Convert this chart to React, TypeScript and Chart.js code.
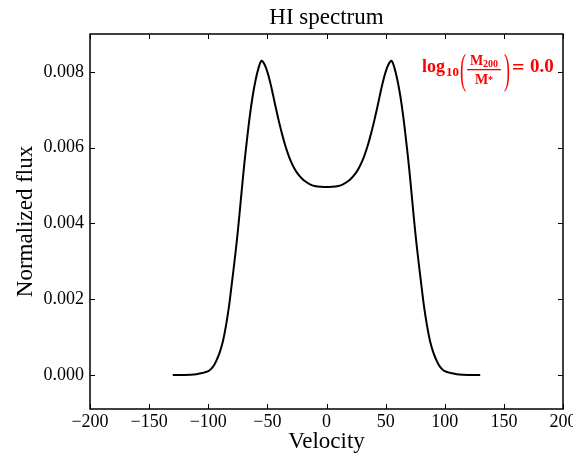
import React, { useEffect, useRef } from "react";
import { Chart, registerables } from "chart.js";

Chart.register(...registerables);

const velocity = [
  -130, -120, -115, -110, -105, -100, -97.5, -95, -92.5, -90, -87.5, -85, -82.5, -80,
  -77.5, -75, -72.5, -70, -67.5, -65, -62.5, -60, -57.5, -55, -52.5, -50, -47.5, -45,
  -42.5, -40, -37.5, -35, -32.5, -30, -27.5, -25, -22.5, -20, -17.5, -15, -12.5, -10, -5, 0,
  5, 10, 12.5, 15, 17.5, 20, 22.5, 25, 27.5, 30, 32.5, 35, 37.5, 40, 42.5, 45, 47.5, 50,
  52.5, 55, 57.5, 60, 62.5, 65, 67.5, 70, 72.5, 75, 77.5, 80, 82.5, 85, 87.5, 90, 92.5,
  95, 97.5, 100, 105, 110, 115, 120, 130,
];

const flux = [
  0, 0, 0.000005, 0.00002, 0.00005, 0.0001, 0.00016, 0.00026, 0.00042, 0.00062, 0.0009, 0.0013, 0.0018, 0.00243,
  0.00308, 0.00379, 0.0046, 0.00542, 0.00614, 0.0068, 0.00735, 0.00778, 0.0081, 0.00829, 0.0082, 0.008, 0.00771, 0.00736,
  0.007, 0.00666, 0.00635, 0.00607, 0.00583, 0.00563, 0.00547, 0.00534, 0.00524, 0.00516, 0.0051, 0.00505, 0.00501, 0.00499, 0.00497, 0.00496,
  0.00497, 0.00499, 0.00501, 0.00505, 0.0051, 0.00516, 0.00524, 0.00534, 0.00547, 0.00563, 0.00583, 0.00607, 0.00635, 0.00666, 0.007, 0.00736, 0.00771, 0.008,
  0.0082, 0.00829, 0.0081, 0.00778, 0.00735, 0.0068, 0.00614, 0.00542, 0.0046, 0.00379, 0.00308, 0.00243, 0.0018, 0.0013, 0.0009, 0.00062, 0.00042,
  0.00026, 0.00016, 0.0001, 0.00005, 0.00002, 0.000005, 0, 0,
];

const xTicks = [-200, -150, -100, -50, 0, 50, 100, 150, 200];
const yTicks = [0, 0.002, 0.004, 0.006, 0.008];
const chartTitle = "HI spectrum";
const xLabel = "Velocity";
const yLabel = "Normalized flux";
const annotationValue = "0.0";

const SERIF = "'Liberation Serif', 'Times New Roman', serif";

const frameTicksPlugin = {
  id: "frameTicks",
  afterDraw(chart: any) {
    const { ctx, chartArea, scales } = chart;
    const { left, right, top, bottom } = chartArea;
    const x = scales.x;
    const y = scales.y;
    ctx.save();
    ctx.strokeStyle = "#000";
    ctx.lineWidth = 1;
    ctx.beginPath();
    xTicks.forEach((v) => {
      const px = Math.round(x.getPixelForValue(v)) + 0.5;
      ctx.moveTo(px, bottom);
      ctx.lineTo(px, bottom - 5);
      ctx.moveTo(px, top);
      ctx.lineTo(px, top + 5);
    });
    yTicks.forEach((v) => {
      const py = Math.round(y.getPixelForValue(v)) + 0.5;
      ctx.moveTo(left, py);
      ctx.lineTo(left + 5, py);
      ctx.moveTo(right, py);
      ctx.lineTo(right - 5, py);
    });
    ctx.stroke();
    ctx.lineWidth = 1.5;
    ctx.strokeRect(left, top, right - left, bottom - top);
    ctx.restore();
  },
};

const annotationPlugin = {
  id: "massRatioLabel",
  afterDraw(chart: any) {
    const { ctx, chartArea } = chart;
    const red = "#ff0000";
    const base = chartArea.top + 38;
    const r = chartArea.right;
    ctx.save();
    ctx.fillStyle = red;
    ctx.textBaseline = "alphabetic";
    ctx.textAlign = "left";

    ctx.font = `bold 18px ${SERIF}`;
    ctx.fillText("log", r - 141, base);

    ctx.font = `bold 13px ${SERIF}`;
    ctx.fillText("10", r - 117, base + 4);

    const drawParen = (ch: string, px: number) => {
      ctx.save();
      ctx.font = `18px ${SERIF}`;
      ctx.translate(px, base);
      ctx.scale(1, 2.3);
      ctx.textBaseline = "middle";
      ctx.fillText(ch, 0, 0);
      ctx.restore();
    };
    drawParen("(", r - 103);

    // fraction
    const fx = r - 96;
    const fw = 34;
    ctx.font = `bold 14px ${SERIF}`;
    const mW = ctx.measureText("M").width;
    ctx.font = `bold 10px ${SERIF}`;
    const subW = ctx.measureText("200").width;
    const starW = ctx.measureText("*").width;
    const nx = fx + (fw - (mW + subW)) / 2;
    ctx.font = `bold 14px ${SERIF}`;
    ctx.fillText("M", nx, base - 7);
    ctx.font = `bold 10px ${SERIF}`;
    ctx.fillText("200", nx + mW, base - 5);
    ctx.fillRect(fx, base - 3, fw, 1.3);
    const dx = fx + (fw - (mW + starW)) / 2;
    ctx.font = `bold 14px ${SERIF}`;
    ctx.fillText("M", dx, base + 12);
    ctx.font = `bold 10px ${SERIF}`;
    ctx.fillText("*", dx + mW, base + 11);

    drawParen(")", r - 59);

    ctx.font = `bold 22px ${SERIF}`;
    ctx.fillText("=", r - 51, base + 2);
    ctx.font = `bold 19px ${SERIF}`;
    ctx.fillText(annotationValue, r - 33, base);
    ctx.restore();
  },
};

export default function App() {
  const canvasRef = useRef<HTMLCanvasElement | null>(null);

  useEffect(() => {
    if (!canvasRef.current) return;
    const points = velocity.map((v, i) => ({ x: v, y: flux[i] }));
    const chart = new Chart(canvasRef.current, {
      type: "line",
      data: {
        datasets: [
          {
            data: points,
            borderColor: "#000",
            borderWidth: 2,
            pointRadius: 0,
            fill: false,
            tension: 0.35,
          },
        ],
      },
      options: {
        responsive: false,
        animation: false,
        devicePixelRatio: 1,
        layout: { padding: { left: 0, right: 10, top: 0, bottom: 0 } },
        plugins: {
          legend: { display: false },
          tooltip: { enabled: false },
          title: {
            display: true,
            text: chartTitle,
            fullSize: false,
            color: "#000",
            font: { family: SERIF, size: 23, weight: "normal" },
            padding: { top: 4, bottom: 2.4 },
          },
        },
        scales: {
          x: {
            type: "linear",
            min: -200,
            max: 200,
            afterBuildTicks: (s: any) => {
              s.ticks = xTicks.map((value) => ({ value }));
            },
            afterFit: (s: any) => {
              s.height = 51;
              s.paddingLeft = 0;
              s.paddingRight = 0;
            },
            ticks: {
              color: "#000",
              font: { family: SERIF, size: 18 },
              padding: 2,
              maxRotation: 0,
              autoSkip: false,
              callback: (v: any) => (Number(v) < 0 ? "\u2212" + Math.abs(Number(v)) : String(v)),
            },
            grid: { display: false, drawTicks: false },
            border: { display: false },
            title: {
              display: true,
              text: xLabel,
              color: "#000",
              font: { family: SERIF, size: 23 },
              padding: { top: 4, bottom: 4 },
            },
          },
          y: {
            type: "linear",
            min: -0.0009,
            max: 0.009,
            afterBuildTicks: (s: any) => {
              s.ticks = yTicks.map((value) => ({ value }));
            },
            afterFit: (s: any) => {
              s.width = 90;
              s.paddingTop = 0;
              s.paddingBottom = 0;
            },
            ticks: {
              color: "#000",
              font: { family: SERIF, size: 18 },
              padding: 6,
              autoSkip: false,
              callback: (v: any) => Number(v).toFixed(3),
            },
            grid: { display: false, drawTicks: false },
            border: { display: false },
            title: {
              display: true,
              text: yLabel,
              color: "#000",
              font: { family: SERIF, size: 23 },
              padding: { top: 12, bottom: 12 },
            },
          },
        },
      },
      plugins: [frameTicksPlugin, annotationPlugin],
    } as any);
    return () => chart.destroy();
  }, []);

  return (
    <div style={{ position: "fixed", left: 0, top: 0, width: 573, height: 460, background: "#fff" }}>
      <canvas ref={canvasRef} width={573} height={460} style={{ display: "block" }} />
    </div>
  );
}
